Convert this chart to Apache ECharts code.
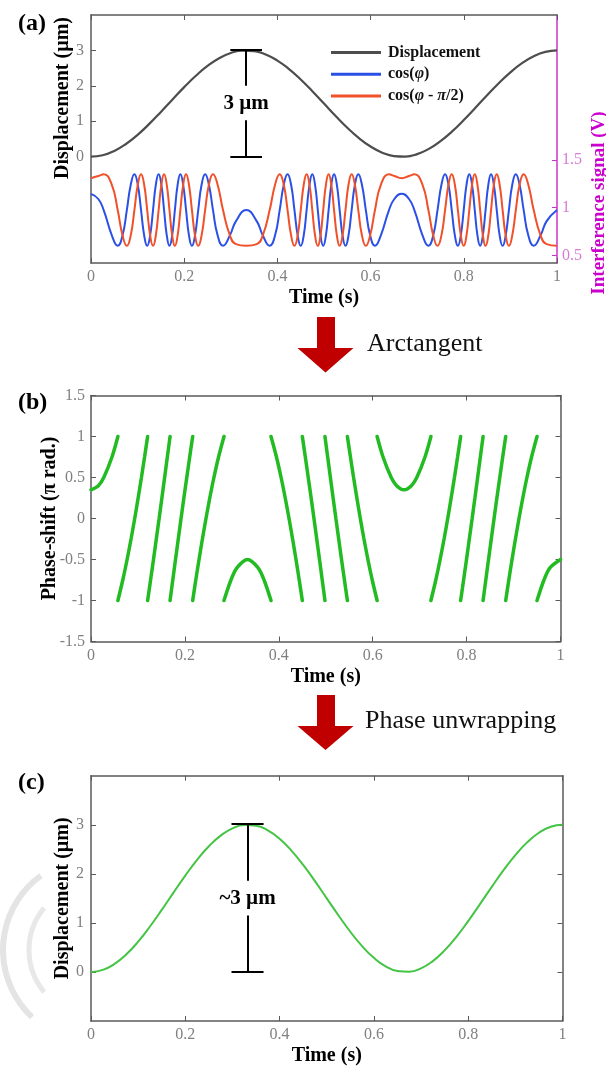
<!DOCTYPE html>
<html>
<head>
<meta charset="utf-8">
<script src="https://cdn.jsdelivr.net/npm/echarts@6/dist/echarts.min.js"></script>
<style>
html,body{margin:0;padding:0;background:#fff;}
#chart{width:606px;height:1070px;}
</style>
</head>
<body>
<div id="chart"></div>
<script>
// ---------------- data ----------------
// (a) displacement (µm) vs time (s)
const dispTime = [0,0.025,0.05,0.075,0.1,0.125,0.15,0.175,0.2,0.225,0.25,0.275,0.3,0.325,0.35,0.375,0.4,0.425,0.45,0.475,0.5,0.525,0.55,0.575,0.6,0.625,0.65,0.675,0.7,0.725,0.75,0.775,0.8,0.825,0.85,0.875,0.9,0.925,0.95,0.975,1];
const dispValue = [0,0.041,0.164,0.359,0.618,0.926,1.265,1.618,1.964,2.284,2.561,2.779,2.927,2.995,2.982,2.886,2.714,2.474,2.181,1.850,1.500,1.150,0.819,0.526,0.287,0.114,0.019,0.005,0.073,0.221,0.439,0.716,1.037,1.382,1.735,2.074,2.382,2.641,2.837,2.959,3.000];
// (c) unwrapped displacement (recovered trace)
const unwrappedValue = [0,0.041,0.164,0.359,0.618,0.926,1.265,1.618,1.964,2.284,2.561,2.779,2.927,2.995,2.982,2.886,2.714,2.474,2.181,1.850,1.500,1.150,0.819,0.526,0.287,0.114,0.019,0.005,0.073,0.221,0.439,0.716,1.037,1.382,1.735,2.074,2.382,2.641,2.837,2.959,3.000];

// (a) interference signals (V) vs time (s)
const sigTime = [0,0.0157,0.0272,0.0447,0.0573,0.0677,0.0769,0.0853,0.0931,0.1004,0.1074,0.1141,0.1206,0.1269,0.1331,0.1391,0.1451,0.1510,0.1568,0.1626,0.1684,0.1742,0.1800,0.1859,0.1918,0.1978,0.2040,0.2102,0.2166,0.2232,0.2301,0.2373,0.2449,0.2530,0.2618,0.2717,0.2833,0.2981,0.3111,0.3333,
0.3556,0.3686,0.3834,0.3950,0.4049,0.4137,0.4218,0.4294,0.4366,0.4435,0.4501,0.4565,0.4627,0.4689,0.4749,0.4808,0.4867,0.4925,0.4983,0.5041,0.5099,0.5157,0.5216,0.5276,0.5336,0.5398,0.5461,0.5526,0.5593,0.5663,0.5736,0.5814,0.5898,0.5990,0.6094,0.6220,0.6395,0.6510,0.6667,
0.6824,0.6939,0.7114,0.7240,0.7344,0.7436,0.7520,0.7598,0.7671,0.7741,0.7808,0.7873,0.7936,0.7998,0.8058,0.8118,0.8177,0.8235,0.8293,0.8351,0.8409,0.8467,0.8526,0.8585,0.8645,0.8707,0.8769,0.8833,0.8899,0.8968,0.9040,0.9116,0.9197,0.9285,0.9384,0.9500,0.9648,0.9778,1.0];
const cosPhi = [1.145,1.091,0.975,0.710,0.600,0.710,0.975,1.240,1.350,1.240,0.975,0.710,0.600,0.710,0.975,1.240,1.350,1.240,0.975,0.710,0.600,0.710,0.975,1.240,1.350,1.240,0.975,0.710,0.600,0.710,0.975,1.240,1.350,1.240,0.975,0.710,0.600,0.710,0.859,0.975,
0.859,0.710,0.600,0.710,0.975,1.240,1.350,1.240,0.975,0.710,0.600,0.710,0.975,1.240,1.350,1.240,0.975,0.710,0.600,0.710,0.975,1.240,1.350,1.240,0.975,0.710,0.600,0.710,0.975,1.240,1.350,1.240,0.975,0.710,0.600,0.710,0.975,1.091,1.145,
1.091,0.975,0.710,0.600,0.710,0.975,1.240,1.350,1.240,0.975,0.710,0.600,0.710,0.975,1.240,1.350,1.240,0.975,0.710,0.600,0.710,0.975,1.240,1.350,1.240,0.975,0.710,0.600,0.710,0.975,1.240,1.350,1.240,0.975,0.710,0.600,0.710,0.859,0.975];
const cosPhiShift = [1.309,1.332,1.350,1.240,0.975,0.710,0.600,0.710,0.975,1.240,1.350,1.240,0.975,0.710,0.600,0.710,0.975,1.240,1.350,1.240,0.975,0.710,0.600,0.710,0.975,1.240,1.350,1.240,0.975,0.710,0.600,0.710,0.975,1.240,1.350,1.240,0.975,0.710,0.618,0.600,
0.618,0.710,0.975,1.240,1.350,1.240,0.975,0.710,0.600,0.710,0.975,1.240,1.350,1.240,0.975,0.710,0.600,0.710,0.975,1.240,1.350,1.240,0.975,0.710,0.600,0.710,0.975,1.240,1.350,1.240,0.975,0.710,0.600,0.710,0.975,1.240,1.350,1.332,1.309,
1.332,1.350,1.240,0.975,0.710,0.600,0.710,0.975,1.240,1.350,1.240,0.975,0.710,0.600,0.710,0.975,1.240,1.350,1.240,0.975,0.710,0.600,0.710,0.975,1.240,1.350,1.240,0.975,0.710,0.600,0.710,0.975,1.240,1.350,1.240,0.975,0.710,0.618,0.600];

// (b) wrapped phase (π rad) vs time (s); null = wrap break
const phaseTime = [0,0.0157,0.0272,0.0447,0.0573, 0.0573, 0.0573,0.0677,0.0769,0.0853,0.0931,0.1004,0.1074,0.1141,0.1206, 0.1206,
0.1206,0.1269,0.1331,0.1391,0.1451,0.1510,0.1568,0.1626,0.1684, 0.1684,
0.1684,0.1742,0.1800,0.1859,0.1918,0.1978,0.2040,0.2102,0.2166, 0.2166,
0.2166,0.2232,0.2301,0.2373,0.2449,0.2530,0.2618,0.2717,0.2833, 0.2833,
0.2833,0.2981,0.3111,0.3333,0.3556,0.3686,0.3834, 0.3834,
0.3834,0.3950,0.4049,0.4137,0.4218,0.4294,0.4366,0.4435,0.4501, 0.4501,
0.4501,0.4565,0.4627,0.4689,0.4749,0.4808,0.4867,0.4925,0.4983, 0.4983,
0.4983,0.5041,0.5099,0.5157,0.5216,0.5276,0.5336,0.5398,0.5461, 0.5461,
0.5461,0.5526,0.5593,0.5663,0.5736,0.5814,0.5898,0.5990,0.6094, 0.6094,
0.6094,0.6220,0.6395,0.6510,0.6667,0.6824,0.6939,0.7114,0.7240, 0.7240,
0.7240,0.7344,0.7436,0.7520,0.7598,0.7671,0.7741,0.7808,0.7873, 0.7873,
0.7873,0.7936,0.7998,0.8058,0.8118,0.8177,0.8235,0.8293,0.8351, 0.8351,
0.8351,0.8409,0.8467,0.8526,0.8585,0.8645,0.8707,0.8769,0.8833, 0.8833,
0.8833,0.8899,0.8968,0.9040,0.9116,0.9197,0.9285,0.9384,0.9500, 0.9500,
0.9500,0.9648,0.9778,1.0];
const phaseValue = [0.35,0.40,0.50,0.75,1, null, -1,-0.75,-0.5,-0.25,0,0.25,0.5,0.75,1, null,
-1,-0.75,-0.5,-0.25,0,0.25,0.5,0.75,1, null,
-1,-0.75,-0.5,-0.25,0,0.25,0.5,0.75,1, null,
-1,-0.75,-0.5,-0.25,0,0.25,0.5,0.75,1, null,
-1,-0.75,-0.6,-0.5,-0.6,-0.75,-1, null,
1,0.75,0.5,0.25,0,-0.25,-0.5,-0.75,-1, null,
1,0.75,0.5,0.25,0,-0.25,-0.5,-0.75,-1, null,
1,0.75,0.5,0.25,0,-0.25,-0.5,-0.75,-1, null,
1,0.75,0.5,0.25,0,-0.25,-0.5,-0.75,-1, null,
1,0.75,0.5,0.40,0.35,0.40,0.5,0.75,1, null,
-1,-0.75,-0.5,-0.25,0,0.25,0.5,0.75,1, null,
-1,-0.75,-0.5,-0.25,0,0.25,0.5,0.75,1, null,
-1,-0.75,-0.5,-0.25,0,0.25,0.5,0.75,1, null,
-1,-0.75,-0.5,-0.25,0,0.25,0.5,0.75,1, null,
-1,-0.75,-0.6,-0.5];

// tick values
const dispTicks = [0, 1, 2, 3];
const signalTicks = [0.5, 1, 1.5];
// peak-to-peak annotation bars
const barA = {t: 0.333, low: 0, high: 3.03, half: 0.034, gapLow: 1.03, gapHigh: 2.0, mid: 1.5, text: '3 µm'};
const barC = {t: 0.332, low: 0, high: 3.03, half: 0.034, gapLow: 1.15, gapHigh: 1.86, mid: 1.49, text: '~3 µm'};

// ---------------- chart ----------------
const FONT = "'Liberation Serif', 'DejaVu Serif', serif";
const zip = (a, b) => a.map((v, i) => [v, b[i]]);
const FRAME = '#5a5a5a';
const LABEL = '#808080';
const TICK_FS = 16;
const NAME_FS = 20;

function xAxes(grid, name) {
  const base = {
    gridIndex: grid, type: 'value', min: 0, max: 1, interval: 0.2,
    axisLine: {show: true, onZero: false, lineStyle: {color: FRAME, width: 1.5}},
    axisTick: {show: true, inside: true, length: 5, lineStyle: {color: FRAME, width: 1}},
    splitLine: {show: false}
  };
  return [
    Object.assign({}, base, {
      position: 'bottom',
      axisLabel: {color: LABEL, fontFamily: FONT, fontSize: TICK_FS, margin: 6},
      name: name, nameLocation: 'middle', nameGap: 25, nameMoveOverlap: false,
      nameTextStyle: {fontFamily: FONT, fontWeight: 'bold', fontSize: NAME_FS, color: '#000'}
    }),
    Object.assign({}, base, {position: 'top', axisLabel: {show: false}})
  ];
}
function yLine(color) {
  return {show: true, onZero: false, lineStyle: {color: color, width: 1.5}};
}

function barMarkLine(b) {
  return {
    silent: true, symbol: ['none', 'none'], animation: false,
    label: {show: false},
    lineStyle: {color: '#000', width: 2, type: 'solid'},
    data: [
      [{coord: [b.t - b.half, b.high]}, {coord: [b.t + b.half, b.high]}],
      [{coord: [b.t - b.half, b.low]}, {coord: [b.t + b.half, b.low]}],
      [{coord: [b.t, b.high]}, {coord: [b.t, b.gapHigh]}],
      [{coord: [b.t, b.gapLow]}, {coord: [b.t, b.low]}]
    ]
  };
}
function barMarkPoint(b) {
  return {
    silent: true, animation: false,
    data: [{coord: [b.t, b.mid], symbol: 'rect', symbolSize: 1, itemStyle: {color: 'rgba(0,0,0,0)'},
      label: {show: true, position: 'inside', formatter: b.text, color: '#000', fontFamily: FONT, fontWeight: 'bold', fontSize: 21}}]
  };
}

const titleStyle = {fontFamily: FONT, fontWeight: 'bold', fontSize: 24, color: '#000'};

const option = {
  animation: false,
  backgroundColor: '#fff',
  title: [
    {text: '(a)', left: 13, top: 7, textStyle: titleStyle},
    {text: '(b)', left: 13, top: 386, textStyle: titleStyle},
    {text: '(c)', left: 13, top: 766, textStyle: titleStyle}
  ],
  grid: [
    {left: 91, top: 15, width: 466, height: 248, outerBoundsMode: 'none', containLabel: false},
    {left: 91, top: 395.5, width: 469.5, height: 246, outerBoundsMode: 'none', containLabel: false},
    {left: 91, top: 775.7, width: 471.5, height: 245.3, outerBoundsMode: 'none', containLabel: false}
  ],
  legend: {
    data: ['Displacement', 'cos(φ)', 'cos(φ - π/2)'],
    orient: 'vertical', left: 326, top: 39.5,
    icon: 'rect', itemWidth: 50, itemHeight: 3, itemGap: 5.7,
    textStyle: {fontFamily: FONT, fontWeight: 'bold', fontSize: 16, color: '#111', lineHeight: 15, padding: [0, 0, 0, 2],
      rich: {i: {fontFamily: FONT, fontWeight: 'bold', fontStyle: 'italic', fontSize: 16, color: '#111', lineHeight: 15}}},
    formatter: function (n) {
      if (n === 'cos(φ)') return 'cos({i|φ})';
      if (n === 'cos(φ - π/2)') return 'cos({i|φ} - {i|π}/2)';
      return n;
    }
  },
  xAxis: [].concat(xAxes(0, 'Time (s)'), xAxes(1, 'Time (s)'), xAxes(2, 'Time (s)')),
  yAxis: [
    { // (a) left displacement
      gridIndex: 0, type: 'value', position: 'left', min: -3, max: 4,
      axisLine: yLine(FRAME),
      axisTick: {show: true, inside: true, length: 5, customValues: dispTicks, lineStyle: {color: FRAME}},
      axisLabel: {color: LABEL, fontFamily: FONT, fontSize: TICK_FS, margin: 7, customValues: dispTicks},
      splitLine: {show: false},
      name: 'Displacement (µm)', nameLocation: 'middle', nameRotate: 90, nameGap: 18, nameMoveOverlap: false,
      nameTextStyle: {fontFamily: FONT, fontWeight: 'bold', fontSize: NAME_FS, color: '#000', padding: [0, 0, 0, 82]}
    },
    { // (a) right interference signal
      gridIndex: 0, type: 'value', position: 'right', min: 0.42, max: 3.02,
      axisLine: yLine('#cc33cc'),
      axisTick: {show: true, inside: true, length: 5, customValues: signalTicks, lineStyle: {color: '#cc33cc'}},
      axisLabel: {color: '#d77bd7', fontFamily: FONT, fontSize: TICK_FS, margin: 5, customValues: signalTicks},
      splitLine: {show: false},
      name: 'Interference signal (V)', nameLocation: 'middle', nameRotate: 90, nameGap: 33, nameMoveOverlap: false,
      nameTextStyle: {fontFamily: FONT, fontWeight: 'bold', fontSize: 19, color: '#cc00cc', padding: [0, 128, 0, 0]}
    },
    { // (b) left
      gridIndex: 1, type: 'value', position: 'left', min: -1.5, max: 1.5, interval: 0.5,
      axisLine: yLine(FRAME),
      axisTick: {show: true, inside: true, length: 5, lineStyle: {color: FRAME}},
      axisLabel: {color: LABEL, fontFamily: FONT, fontSize: TICK_FS, margin: 6},
      splitLine: {show: false},
      name: 'Phase-shift (π rad.)', nameLocation: 'middle', nameRotate: 90, nameGap: 31, nameMoveOverlap: false,
      nameTextStyle: {fontFamily: FONT, fontWeight: 'bold', fontSize: NAME_FS, color: '#000'}
    },
    {
      gridIndex: 1, type: 'value', position: 'right', min: -1.5, max: 1.5, interval: 0.5,
      axisLine: yLine(FRAME),
      axisTick: {show: true, inside: true, length: 5, lineStyle: {color: FRAME}},
      axisLabel: {show: false}, splitLine: {show: false}
    },
    { // (c) left
      gridIndex: 2, type: 'value', position: 'left', min: -1, max: 4,
      axisLine: yLine(FRAME),
      axisTick: {show: true, inside: true, length: 5, customValues: dispTicks, lineStyle: {color: FRAME}},
      axisLabel: {color: LABEL, fontFamily: FONT, fontSize: TICK_FS, margin: 7, customValues: dispTicks},
      splitLine: {show: false},
      name: 'Displacement (µm)', nameLocation: 'middle', nameRotate: 90, nameGap: 18, nameMoveOverlap: false,
      nameTextStyle: {fontFamily: FONT, fontWeight: 'bold', fontSize: NAME_FS, color: '#000'}
    },
    {
      gridIndex: 2, type: 'value', position: 'right', min: -1, max: 4,
      axisLine: yLine(FRAME),
      axisTick: {show: true, inside: true, length: 5, customValues: dispTicks, lineStyle: {color: FRAME}},
      axisLabel: {show: false}, splitLine: {show: false}
    }
  ],
  series: [
    {
      name: 'Displacement', type: 'line', xAxisIndex: 0, yAxisIndex: 0,
      data: zip(dispTime, dispValue), smooth: true, symbol: 'none',
      lineStyle: {color: '#4d4d4d', width: 2.2}, itemStyle: {color: '#4d4d4d'},
      markLine: barMarkLine(barA), markPoint: barMarkPoint(barA)
    },
    {
      name: 'cos(φ)', type: 'line', xAxisIndex: 0, yAxisIndex: 1,
      data: zip(sigTime, cosPhi), smooth: true, symbol: 'none',
      lineStyle: {color: '#2b50e6', width: 2}, itemStyle: {color: '#2b50e6'}
    },
    {
      name: 'cos(φ - π/2)', type: 'line', xAxisIndex: 0, yAxisIndex: 1,
      data: zip(sigTime, cosPhiShift), smooth: true, symbol: 'none',
      lineStyle: {color: '#f0502a', width: 2}, itemStyle: {color: '#f0502a'}
    },
    {
      name: 'Phase-shift', type: 'line', xAxisIndex: 2, yAxisIndex: 2,
      data: zip(phaseTime, phaseValue), smooth: 0.3, symbol: 'none', connectNulls: false,
      lineStyle: {color: '#22bb22', width: 3.5, cap: 'round'}, itemStyle: {color: '#22bb22'}
    },
    {
      name: 'Unwrapped displacement', type: 'line', xAxisIndex: 4, yAxisIndex: 4,
      data: zip(dispTime, unwrappedValue), smooth: true, symbol: 'none',
      lineStyle: {color: '#44c444', width: 2}, itemStyle: {color: '#44c444'},
      markLine: barMarkLine(barC), markPoint: barMarkPoint(barC)
    }
  ],
  graphic: [
    {type: 'polygon', shape: {points: [[317,317],[335,317],[335,348],[353.5,348],[325.5,372.5],[297.5,348],[317,348]]}, style: {fill: '#c00000'}},
    {type: 'text', left: 367, top: 331, style: {text: 'Arctangent', font: "26px 'Liberation Serif', serif", fill: '#111'}},
    {type: 'polygon', shape: {points: [[317,695],[335,695],[335,726],[353.5,726],[325.5,750],[297.5,726],[317,726]]}, style: {fill: '#c00000'}},
    {type: 'text', left: 365, top: 708, style: {text: 'Phase unwrapping', font: "26px 'Liberation Serif', serif", fill: '#111'}},
    {type: 'arc', shape: {cx: 95, cy: 950, r: 92, startAngle: Math.PI * 0.74, endAngle: Math.PI * 1.30}, style: {stroke: '#e4e4e4', lineWidth: 6, fill: null}, z: -1},
    {type: 'arc', shape: {cx: 95, cy: 950, r: 66, startAngle: Math.PI * 0.78, endAngle: Math.PI * 1.22}, style: {stroke: '#e8e8e8', lineWidth: 5, fill: null}, z: -1}
  ]
};

const chart = echarts.init(document.getElementById('chart'), null, {renderer: 'canvas'});
chart.setOption(option);
</script>
</body>
</html>
